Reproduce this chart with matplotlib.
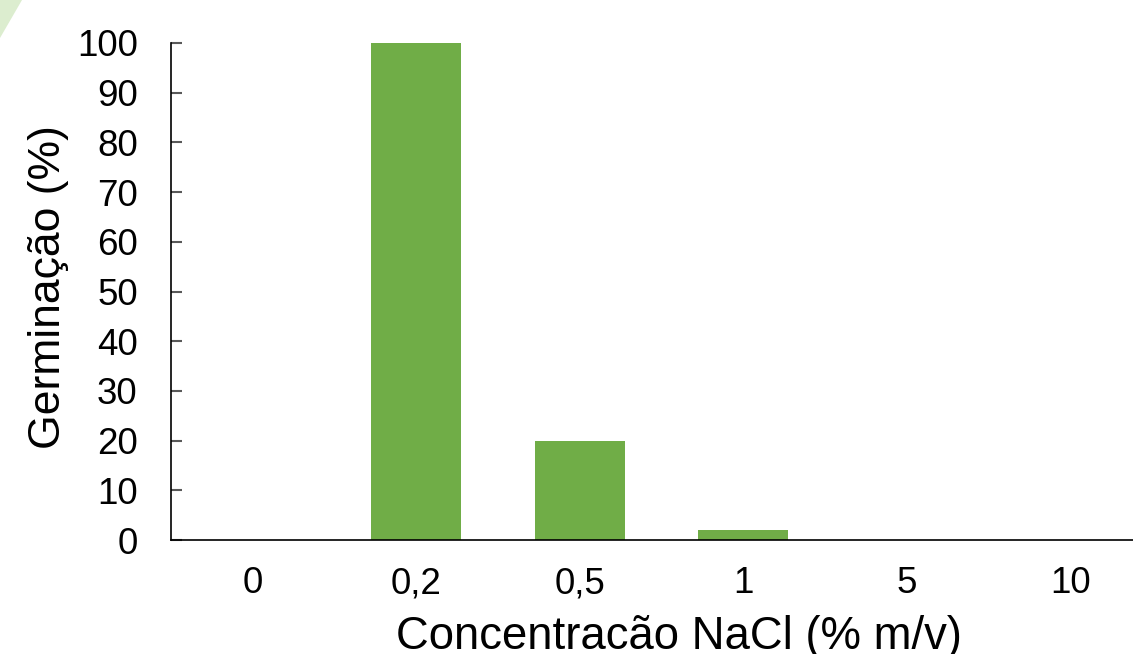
import matplotlib
matplotlib.use("Agg")
import matplotlib.pyplot as plt
from matplotlib.patches import Polygon

categories = ["0", "0,2", "0,5", "1", "5", "10"]
germination = [0, 100, 20, 2, 0, 0]
yticks = [0, 10, 20, 30, 40, 50, 60, 70, 80, 90, 100]

plt.rcParams['font.family'] = ['Liberation Sans', 'DejaVu Sans']

W, H = 1133, 654
fig = plt.figure(figsize=(W / 100, H / 100), dpi=100)

# light green decorative corner
tri = Polygon([(0, 1), (22 / W, 1), (0, 1 - 38 / H)], closed=True,
              transform=fig.transFigure, facecolor="#dcedcf", edgecolor="none")
fig.patches.append(tri)

left, right, top, bottom = 171, 1152, 43, 540
ax = fig.add_axes([left / W, 1 - bottom / H, (right - left) / W, (bottom - top) / H])

x = list(range(len(categories)))
ax.bar(x, germination, width=0.55, color="#70AD47")
ax.set_xlim(-0.5, len(categories) - 0.5)
ax.set_ylim(0, 100)
ax.set_yticks(yticks)
ax.set_xticks(x)
ax.set_xticklabels(categories)

for s in ["top", "right"]:
    ax.spines[s].set_visible(False)
ax.spines["left"].set_color("#000000")
ax.spines["bottom"].set_color("#000000")
ax.spines["left"].set_linewidth(1.2)
ax.spines["bottom"].set_linewidth(1.2)

ax.tick_params(axis="y", direction="in", length=8, width=1.5, color="#595959",
               labelsize=26.5, pad=24)
ax.tick_params(axis="x", length=0, labelsize=26.5, pad=19)

fig.text(679 / W, 1 - 637 / H, "Concentracão NaCl (% m/v)", fontsize=32.8,
         ha="center", va="center")
fig.text(49 / W, 1 - 287 / H, "Germinação (%)", fontsize=32, rotation=90,
         ha="center", va="center")

fig.savefig("out.png", dpi=100)
